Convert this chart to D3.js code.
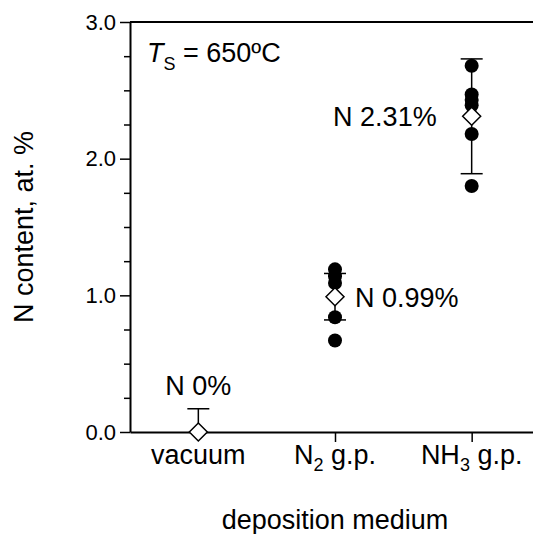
<!DOCTYPE html>
<html><head><meta charset="utf-8">
<script src="https://cdn.jsdelivr.net/npm/d3@7"></script>
<style>body{margin:0;background:#fff}svg{display:block}text{font-family:"Liberation Sans",Arial,sans-serif;fill:#000}</style>
</head><body><svg id="c" width="533" height="534"></svg>
<script>
const categories = ["vacuum", "N2", "NH3"];
const catLabels = [["vacuum", null, ""], ["N", "2", " g.p."], ["NH", "3", " g.p."]];
const means = [0, 0.99, 2.31];
const sds = [0.17, 0.17, 0.42];
const meanLabels = ["N 0%", "N 0.99%", "N 2.31%"];
const pointsN2 = [1.19, 1.14, 1.09, 0.84, 0.67];
const pointsNH3 = [2.68, 2.47, 2.43, 2.39, 2.18, 1.80];
const yMajor = [0, 1, 2, 3];
const yMinor = [0.25, 0.5, 0.75, 1.25, 1.5, 1.75, 2.25, 2.5, 2.75];

const svg = d3.select("#c");
const x = d3.scalePoint().domain(categories).range([130, 540]).padding(0.5);
const y = d3.scaleLinear().domain([0, 3]).range([432, 22]);

// minor ticks
svg.append("g").attr("transform", "translate(130,0)")
  .call(d3.axisLeft(y).tickValues(yMinor).tickSize(6).tickFormat(""))
  .call(g => g.select(".domain").remove())
  .selectAll("line").attr("stroke-width", 1.5);
// major y axis
const ya = svg.append("g").attr("transform", "translate(130,0)")
  .call(d3.axisLeft(y).tickValues(yMajor).tickSize(10).tickSizeOuter(0).tickPadding(4).tickFormat(d3.format(".1f")));
ya.select(".domain").attr("stroke-width", 2);
ya.selectAll("line").attr("stroke-width", 1.5);
ya.selectAll("text").style("font-size", "22px").attr("font-family", "Liberation Sans, Arial, sans-serif");

// x axis
const xa = svg.append("g").attr("transform", "translate(0,432)")
  .call(d3.axisBottom(x).tickSize(10).tickSizeOuter(0).tickFormat(""));
xa.select(".domain").attr("stroke-width", 2);
xa.selectAll("line").attr("stroke-width", 1.5).style("display", d => d === "vacuum" ? "none" : null);
// top frame
svg.append("line").attr("x1", 130).attr("x2", 540).attr("y1", y(3)).attr("y2", y(3)).attr("stroke", "#000").attr("stroke-width", 2);

// x category labels
categories.forEach((c, i) => {
  const t = svg.append("text").attr("x", x(c)).attr("y", 464).attr("text-anchor", "middle").style("font-size", "27px");
  const [a, sub, b] = catLabels[i];
  t.append("tspan").text(a);
  if (sub) {
    t.append("tspan").attr("dy", 7).style("font-size", "18px").text(sub);
    t.append("tspan").attr("dy", -7).text(b);
  }
});

// axis titles
svg.append("text").attr("x", 335).attr("y", 529).attr("text-anchor", "middle").style("font-size", "27px").text("deposition medium");
svg.append("text").attr("transform", "translate(33,227) rotate(-90)").attr("text-anchor", "middle").style("font-size", "27px").text("N content, at. %");

// Ts annotation
const ts = svg.append("text").attr("x", 147).attr("y", 62).style("font-size", "27px");
ts.append("tspan").style("font-style", "italic").text("T");
ts.append("tspan").attr("dy", 8).style("font-size", "18px").text("S");
ts.append("tspan").attr("dy", -8).text(" = 650ºC");

// error bars
const cap = 11;
categories.forEach((c, i) => {
  const cx = x(c);
  const lo = i === 0 ? means[i] : means[i] - sds[i];
  const hi = means[i] + sds[i];
  svg.append("line").attr("x1", cx).attr("x2", cx).attr("y1", y(lo)).attr("y2", y(hi)).attr("stroke", "#000").attr("stroke-width", 1.5);
  svg.append("line").attr("x1", cx - cap).attr("x2", cx + cap).attr("y1", y(hi)).attr("y2", y(hi)).attr("stroke", "#000").attr("stroke-width", 1.5);
  if (i !== 0) svg.append("line").attr("x1", cx - cap).attr("x2", cx + cap).attr("y1", y(lo)).attr("y2", y(lo)).attr("stroke", "#000").attr("stroke-width", 1.5);
});

// points
[["N2", pointsN2], ["NH3", pointsNH3]].forEach(([c, pts]) => {
  svg.selectAll(null).data(pts).enter().append("circle")
    .attr("cx", x(c)).attr("cy", d => y(d)).attr("r", 7).attr("fill", "#000");
});

// mean diamonds
const dsz = 9;
categories.forEach((c, i) => {
  const cx = x(c), cy = y(means[i]);
  svg.append("path").attr("d", `M${cx},${cy - dsz}L${cx + dsz},${cy}L${cx},${cy + dsz}L${cx - dsz},${cy}Z`)
    .attr("fill", "#fff").attr("stroke", "#000").attr("stroke-width", 1.5);
});

// mean labels
svg.append("text").attr("x", x("vacuum")).attr("y", 395).attr("text-anchor", "middle").style("font-size", "27px").text(meanLabels[0]);
svg.append("text").attr("x", x("N2") + 20).attr("y", y(means[1]) + 10).attr("text-anchor", "start").style("font-size", "27px").text(meanLabels[1]);
svg.append("text").attr("x", x("NH3") - 35).attr("y", 126).attr("text-anchor", "end").style("font-size", "27px").text(meanLabels[2]);
</script></body></html>
